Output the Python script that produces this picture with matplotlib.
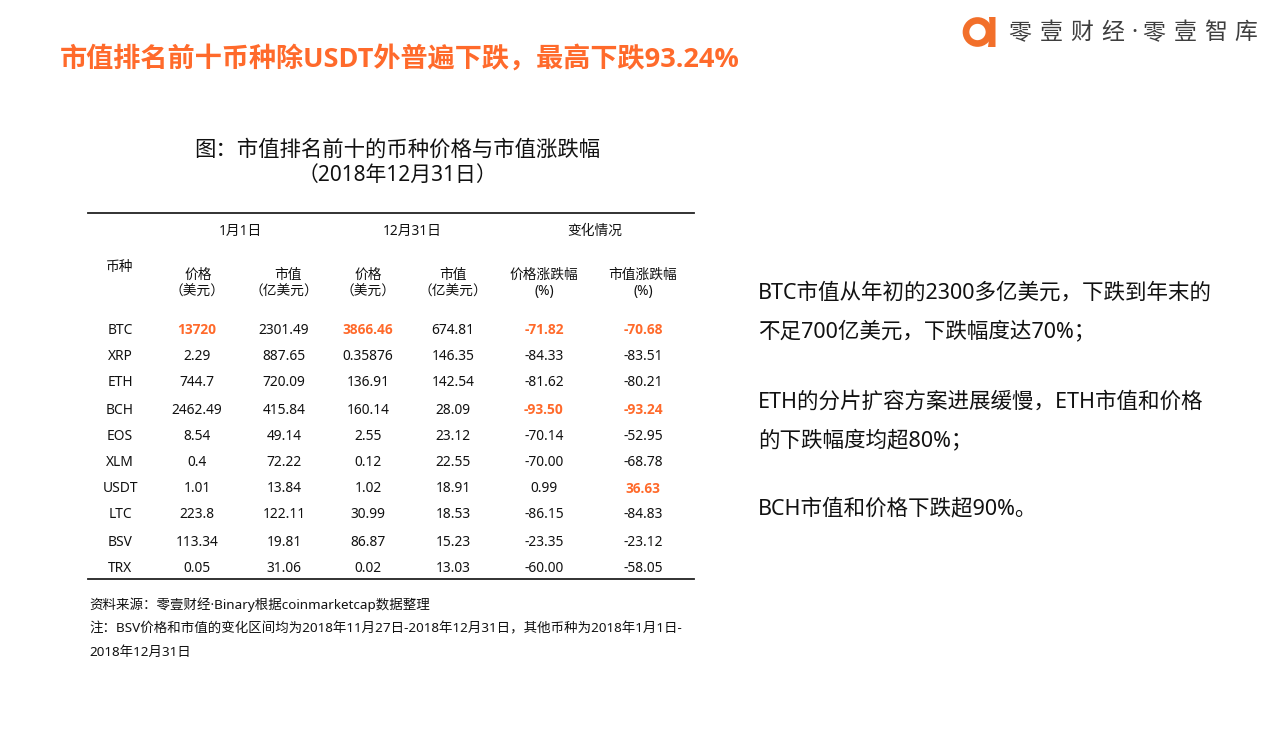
import matplotlib
matplotlib.use("Agg")
import matplotlib.pyplot as plt
from matplotlib.patches import Circle, Polygon

FONT = ['Noto Sans', 'Noto Sans CJK SC', 'DejaVu Sans']
BOLD_FONT = ['Open Sans', 'Noto Sans CJK SC', 'DejaVu Sans']
plt.rcParams['font.family'] = FONT

ORANGE = '#FF6A2B'
coins = ['BTC', 'XRP', 'ETH', 'BCH', 'EOS', 'XLM', 'USDT', 'LTC', 'BSV', 'TRX']
price_jan = ['13720', '2.29', '744.7', '2462.49', '8.54', '0.4', '1.01', '223.8', '113.34', '0.05']
cap_jan = ['2301.49', '887.65', '720.09', '415.84', '49.14', '72.22', '13.84', '122.11', '19.81', '31.06']
price_dec = ['3866.46', '0.35876', '136.91', '160.14', '2.55', '0.12', '1.02', '30.99', '86.87', '0.02']
cap_dec = ['674.81', '146.35', '142.54', '28.09', '23.12', '22.55', '18.91', '18.53', '15.23', '13.03']
price_chg = ['-71.82', '-84.33', '-81.62', '-93.50', '-70.14', '-70.00', '0.99', '-86.15', '-23.35', '-60.00']
cap_chg = ['-70.68', '-83.51', '-80.21', '-93.24', '-52.95', '-68.78', '36.63', '-84.83', '-23.12', '-58.05']
highlight = {(0, 1), (0, 3), (0, 5), (0, 6), (3, 5), (3, 6), (6, 6)}

columns = [coins, price_jan, cap_jan, price_dec, cap_dec, price_chg, cap_chg]
col_x = [120, 197, 284, 368, 453, 544, 643]
row_y = [330, 356, 382, 410, 437, 463, 489, 515, 542, 568]

fig = plt.figure(figsize=(12.79, 7.36), dpi=100)
ax = fig.add_axes([0, 0, 1, 1])
ax.set_xlim(0, 1279)
ax.set_ylim(736, 0)
ax.axis('off')


def put(x, y, s, size, color='#111111', ha='center', weight='normal', **kw):
    if weight == 'bold':
        kw['family'] = BOLD_FONT
    ax.text(x, y, s, fontsize=size, color=color, ha=ha, va='center', fontweight=weight, **kw)


# Slide heading and brand mark
put(60, 59, '市值排名前十币种除USDT外普遍下跌，最高下跌93.24%', 19.55, ORANGE, 'left', 'bold')
ax.add_patch(Circle((977.5, 32), 11.5, fc='none', ec='#F26F2A', lw=4.8))
ax.add_patch(Polygon([(989, 17), (995.5, 17), (995.5, 47), (988, 47), (990, 32)], fc='#F26F2A', ec='none'))
brand = '零壹财经·零壹智库'
brand_x = [1020, 1051, 1082, 1113, 1134, 1154, 1185, 1216, 1246]
for ch, bx in zip(brand, brand_x):
    put(bx, 33, ch, 16.5, '#3E3E3E')

# Chart title
put(397, 150, '图：市值排名前十的币种价格与市值涨跌幅', 15.4)
put(397, 175, '（2018年12月31日）', 15.0)

# Table rules
ax.plot([88, 694], [213, 213], color='#222222', lw=1.3)
ax.plot([88, 694], [579, 579], color='#222222', lw=1.3)

# Table header
TS = 9.9
put(240, 231, '1月1日', TS)
put(412, 231, '12月31日', TS)
put(595, 231, '变化情况', TS)
put(120, 267, '币种', TS)
sub1 = ['价格', '市值', '价格', '市值', '价格涨跌幅', '市值涨跌幅']
sub2 = ['（美元）', '（亿美元）', '（美元）', '（亿美元）', '(%)', '(%)']
sub_x = [198, 288, 368, 453, 544, 643]
sub2_x = [197, 284, 368, 453, 544, 643]
for a, b, x, x2 in zip(sub1, sub2, sub_x, sub2_x):
    put(x, 275, a, TS)
    put(x2, 292, b, TS)

# Table body
for c, (x, vals) in enumerate(zip(col_x, columns)):
    for r, (y, v) in enumerate(zip(row_y, vals)):
        hl = (r, c) in highlight
        put(x, y, v, TS, ORANGE if hl else '#111111', weight='bold' if hl else 'normal')

# Notes
NS = 9.7
put(89, 605, '资料来源：零壹财经·Binary根据coinmarketcap数据整理', NS, ha='left')
put(89, 629, '注：BSV价格和市值的变化区间均为2018年11月27日-2018年12月31日，其他币种为2018年1月1日-', NS, ha='left')
put(89, 652, '2018年12月31日', NS, ha='left')

# Commentary
RS = 15.5
comment = ['BTC市值从年初的2300多亿美元，下跌到年末的', '不足700亿美元，下跌幅度达70%；',
           'ETH的分片扩容方案进展缓慢，ETH市值和价格', '的下跌幅度均超80%；', 'BCH市值和价格下跌超90%。']
comment_y = [293, 331, 402, 440, 509]
for s, y in zip(comment, comment_y):
    put(758, y, s, RS, ha='left')

fig.savefig('out.png', dpi=100)
